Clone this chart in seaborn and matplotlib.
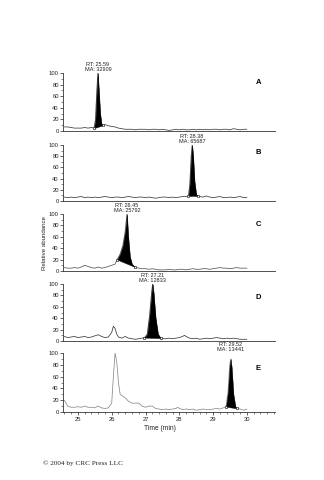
import numpy as np
import pandas as pd
import matplotlib
matplotlib.use("Agg")
import matplotlib.pyplot as plt
from matplotlib.ticker import MultipleLocator
import seaborn as sns

# ---------------- data ----------------
time_a = [24.6, 24.7, 24.8, 24.9, 25.0, 25.1, 25.2, 25.3, 25.4, 25.48, 25.52, 25.56, 25.59, 25.62, 25.66,
          25.70, 25.75, 25.8, 25.9, 26.0, 26.1, 26.2, 26.3, 26.4, 26.5, 26.6, 26.7, 26.8, 26.9, 27.0,
          27.1, 27.2, 27.3, 27.4, 27.5, 27.6, 27.7, 27.8, 27.9, 28.0, 28.1, 28.2, 28.3, 28.4, 28.5,
          28.6, 28.7, 28.8, 28.9, 29.0, 29.1, 29.2, 29.3, 29.4, 29.5, 29.6, 29.7, 29.8, 29.9, 30.0]
abund_a = [7, 7, 6, 5, 5, 5, 6, 5, 6, 5, 20, 70, 100, 70, 30,
           12, 10, 11, 9, 8, 7, 5, 4, 3, 3, 3, 2, 3, 3, 3,
           2, 3, 3, 2, 3, 2, 1, 2, 3, 2, 3, 2, 2, 3, 2,
           3, 2, 3, 2, 3, 3, 2, 3, 3, 2, 4, 3, 2, 3, 3]

time_b = [24.6, 24.7, 24.8, 24.9, 25.0, 25.1, 25.2, 25.3, 25.4, 25.5, 25.6, 25.7, 25.8, 25.9, 26.0,
          26.1, 26.2, 26.3, 26.4, 26.5, 26.6, 26.7, 26.8, 26.9, 27.0, 27.1, 27.2, 27.3, 27.4, 27.5,
          27.6, 27.7, 27.8, 27.9, 28.0, 28.1, 28.2, 28.27, 28.31, 28.35, 28.38, 28.41, 28.45, 28.5, 28.54,
          28.6, 28.7, 28.8, 28.9, 29.0, 29.1, 29.2, 29.3, 29.4, 29.5, 29.6, 29.7, 29.8, 29.9, 30.0]
abund_b = [7, 6, 7, 6, 7, 8, 6, 7, 6, 7, 6, 7, 8, 7, 6,
           7, 7, 6, 7, 8, 7, 6, 7, 7, 6, 7, 6, 5, 6, 7,
           7, 6, 7, 6, 7, 8, 8, 9, 30, 80, 100, 80, 35, 12, 9,
           8, 7, 9, 7, 6, 7, 8, 6, 6, 7, 6, 7, 8, 6, 6]

time_c = [24.6, 24.7, 24.8, 24.9, 25.0, 25.1, 25.2, 25.3, 25.4, 25.5, 25.6, 25.7, 25.8, 25.9, 26.0,
          26.1, 26.16, 26.25, 26.33, 26.4, 26.45, 26.49, 26.54, 26.6, 26.69, 26.8, 26.9, 27.0, 27.1, 27.2,
          27.3, 27.4, 27.5, 27.6, 27.7, 27.8, 27.9, 28.0, 28.1, 28.2, 28.3, 28.4, 28.5, 28.6, 28.7,
          28.8, 28.9, 29.0, 29.1, 29.2, 29.3, 29.4, 29.5, 29.6, 29.7, 29.8, 29.9, 30.0]
abund_c = [6, 5, 5, 6, 5, 7, 10, 8, 6, 5, 7, 5, 6, 8, 10,
           12, 20, 30, 45, 70, 100, 60, 25, 12, 7, 5, 4, 4, 3, 4,
           3, 2, 2, 2, 3, 2, 2, 3, 3, 2, 3, 4, 3, 3, 4,
           4, 3, 4, 5, 6, 5, 5, 4, 5, 6, 5, 5, 5]

time_d = [24.6, 24.7, 24.8, 24.9, 25.0, 25.1, 25.2, 25.3, 25.4, 25.5, 25.6, 25.7, 25.8, 25.9, 26.0,
          26.05, 26.1, 26.15, 26.2, 26.3, 26.4, 26.5, 26.6, 26.7, 26.8, 26.9, 26.97, 27.05, 27.12, 27.18,
          27.21, 27.24, 27.3, 27.37, 27.45, 27.5, 27.6, 27.7, 27.8, 27.9, 28.0, 28.1, 28.15, 28.2, 28.3,
          28.4, 28.5, 28.6, 28.7, 28.8, 28.9, 29.0, 29.1, 29.2, 29.3, 29.4, 29.5, 29.6, 29.7, 29.8,
          29.9, 30.0]
abund_d = [8, 6, 7, 8, 6, 7, 8, 6, 7, 9, 11, 8, 6, 7, 15,
           26, 22, 12, 7, 5, 8, 5, 4, 3, 4, 5, 6, 12, 45, 85,
           100, 85, 40, 12, 5, 4, 4, 5, 4, 5, 6, 8, 10, 8, 5,
           4, 5, 3, 4, 5, 4, 5, 6, 5, 4, 5, 4, 5, 4, 3,
           3, 3]

time_e = [24.6, 24.65, 24.7, 24.8, 24.9, 25.0, 25.1, 25.2, 25.3, 25.4, 25.5, 25.6, 25.7, 25.8, 25.9,
          26.0, 26.05, 26.1, 26.15, 26.2, 26.25, 26.3, 26.4, 26.5, 26.6, 26.7, 26.8, 26.9, 27.0, 27.1,
          27.2, 27.3, 27.4, 27.5, 27.6, 27.7, 27.8, 27.9, 27.95, 28.0, 28.1, 28.2, 28.3, 28.4, 28.5,
          28.6, 28.7, 28.8, 28.9, 29.0, 29.1, 29.2, 29.3, 29.38, 29.44, 29.49, 29.52, 29.55, 29.6, 29.66,
          29.72, 29.8, 29.9, 30.0]
abund_e = [20, 15, 10, 8, 8, 9, 8, 10, 8, 8, 7, 10, 7, 6, 7,
           15, 60, 100, 85, 50, 30, 28, 24, 18, 15, 15, 15, 10, 8, 10,
           10, 6, 5, 4, 5, 4, 5, 6, 8, 6, 4, 5, 4, 5, 3,
           4, 5, 4, 4, 5, 6, 5, 7, 9, 35, 80, 90, 75, 30, 9,
           6, 5, 3, 5]

panel_letters = ["A", "B", "C", "D", "E"]
peak_rt = [25.59, 28.38, 26.45, 27.21, 29.52]
peak_ma = [32909, 65687, 25792, 12833, 13441]
peak_start = [25.48, 28.27, 26.16, 26.97, 29.38]
peak_end = [25.75, 28.54, 26.69, 27.45, 29.72]
letter_y = [84, 86, 81, 77, 73]

traces_t = [time_a, time_b, time_c, time_d, time_e]
traces_y = [abund_a, abund_b, abund_c, abund_d, abund_e]
trace_colors = ["#3a3a3a", "#3a3a3a", "#555555", "#3a3a3a", "#8a8a8a"]

x_ticks = [25, 26, 27, 28, 29, 30]
y_ticks = [0, 20, 40, 60, 80, 100]

# ---------------- figure ----------------
sns.set_theme(style="white")
plt.rcParams["font.family"] = ["Liberation Sans", "DejaVu Sans"]

W, H = 324, 480
fig = plt.figure(figsize=(W / 100, H / 100), dpi=100)
fig.patch.set_facecolor("white")

# (top pixel of 100, bottom pixel of 0)
panel_px = [(73, 131), (145, 201), (214, 271), (284, 341), (353, 412)]
left_px, right_px = 63, 275

for i, (top, bot) in enumerate(panel_px):
    ax = fig.add_axes([left_px / W, 1 - bot / H, (right_px - left_px) / W, (bot - top) / H])
    ax.set_facecolor("none")
    df = pd.DataFrame({"time": traces_t[i], "abund": traces_y[i]})
    sns.lineplot(data=df, x="time", y="abund", ax=ax, color=trace_colors[i],
                 lw=0.55, estimator=None, sort=False)

    t = np.array(traces_t[i], dtype=float)
    y = np.array(traces_y[i], dtype=float)
    s, e = peak_start[i], peak_end[i]
    m = (t >= s - 1e-9) & (t <= e + 1e-9)
    vs = y[np.argmin(np.abs(t - s))]
    ve = y[np.argmin(np.abs(t - e))]
    base = np.interp(t[m], [s, e], [vs, ve])
    ax.fill_between(t[m], base, y[m], color="black", lw=0.3, zorder=3)
    ax.plot([s, e], [vs, ve], ls="none", marker="s", ms=2.0, mfc="white",
            mec="black", mew=0.4, zorder=4)

    ax.text(peak_rt[i], 101, f"RT: {peak_rt[i]:.2f}\nMA: {peak_ma[i]}",
            ha="center", va="bottom", fontsize=4.0, color="#222222",
            linespacing=1.1, clip_on=False)
    ax.text(30.33, letter_y[i], panel_letters[i], ha="center", va="center",
            fontsize=5.5, fontweight="bold", color="black")

    ax.set_xlim(24.56, 30.83)
    ax.set_ylim(0, 100)
    ax.set_yticks(y_ticks)
    ax.yaxis.set_minor_locator(MultipleLocator(10))
    ax.tick_params(axis="y", which="major", direction="out", length=2, width=0.5,
                   labelsize=4.2, pad=1, colors="#222222", left=True)
    ax.tick_params(axis="y", which="minor", direction="out", length=1.2, width=0.4, left=True)
    for sp in ["top", "right"]:
        ax.spines[sp].set_visible(False)
    for sp in ["left", "bottom"]:
        ax.spines[sp].set_linewidth(0.6)
        ax.spines[sp].set_color("#333333")
    ax.set_xlabel("")
    ax.set_ylabel("")
    if i < 4:
        ax.set_xticks([])
    else:
        ax.set_xticks(x_ticks)
        ax.xaxis.set_minor_locator(MultipleLocator(0.2))
        ax.tick_params(axis="x", which="major", direction="out", length=2, width=0.5,
                       labelsize=4.2, pad=1.5, colors="#222222", bottom=True)
        ax.tick_params(axis="x", which="minor", direction="out", length=1.2, width=0.4, bottom=True)

fig.text(45 / W, 1 - 243 / H, "Relative abundance", rotation=90, ha="center", va="center",
         fontsize=4.4, color="#222222")
fig.text(160 / W, 1 - 428 / H, "Time (min)", ha="center", va="center",
         fontsize=4.8, color="#222222")
fig.text(43 / W, 1 - 463 / H, "© 2004 by CRC Press LLC", ha="left", va="center",
         fontsize=5.2, family=["Liberation Serif", "DejaVu Serif"], color="#222222")

fig.savefig("out.png", dpi=100, facecolor="white")
